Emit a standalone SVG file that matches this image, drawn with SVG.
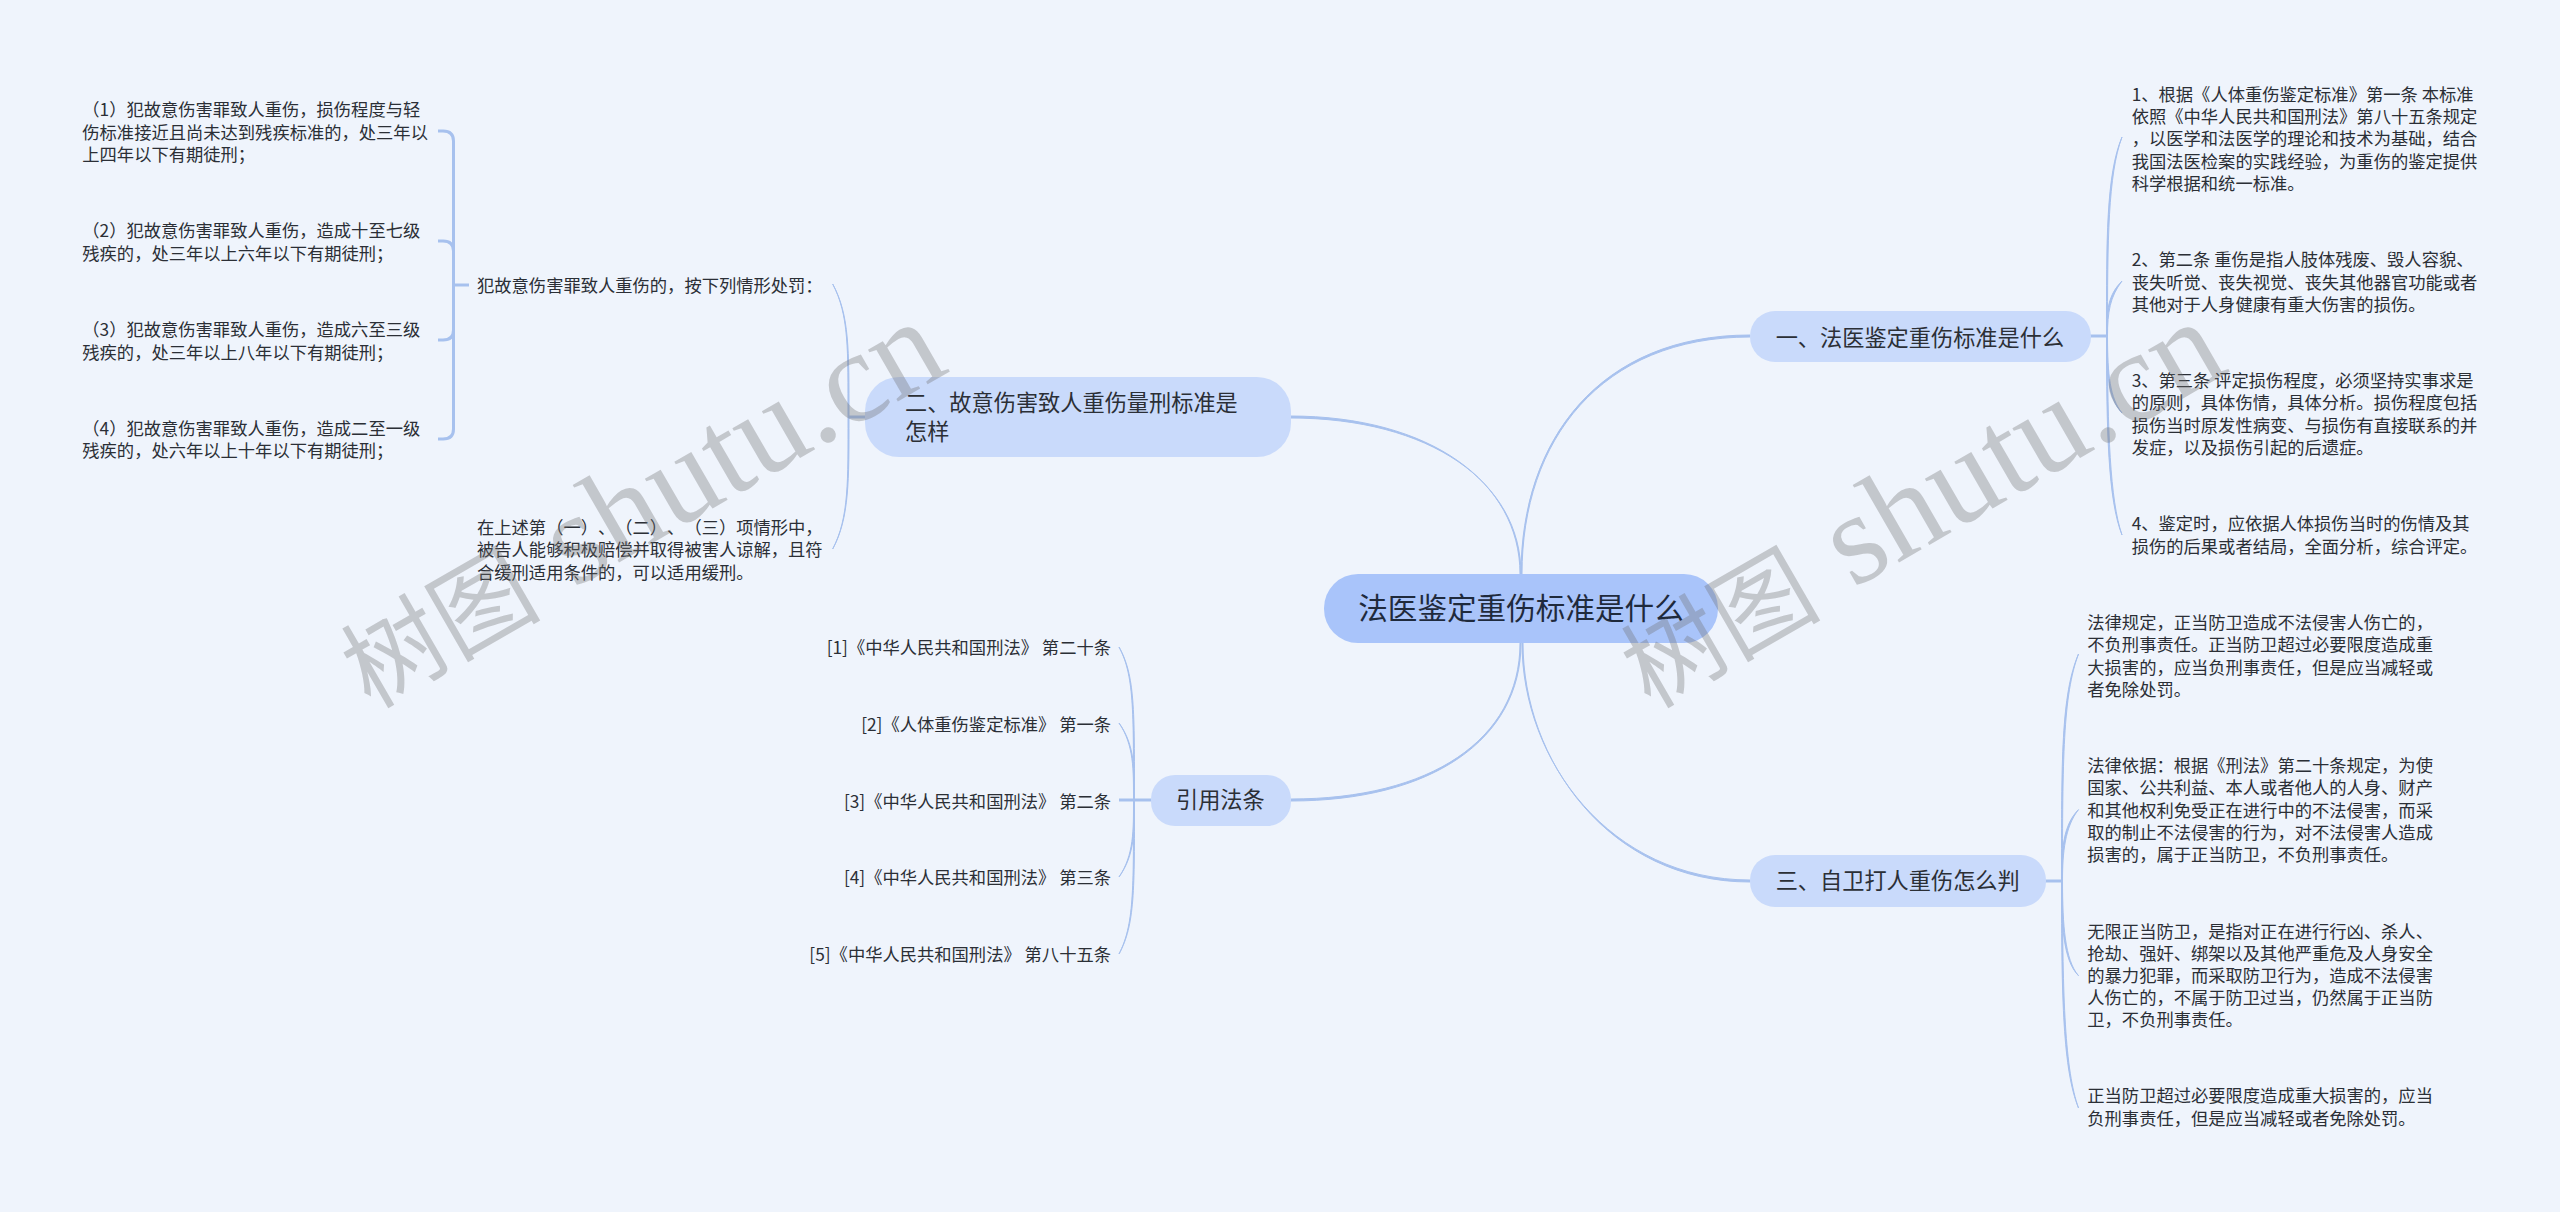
<svg xmlns="http://www.w3.org/2000/svg" width="2560" height="1212" viewBox="0 0 2560 1212">
<style>
text{font-family:"Noto Sans CJK SC","Noto Sans",sans-serif;fill:#2b2f36;text-spacing-trim:space-all}
.l{font-size:17.3px}
.r{font-size:17.3px;text-anchor:end}
.m{font-size:22.2px}
.c{font-size:29.6px;text-anchor:middle;fill:#1f2a3c}
.n1{fill:#c9dafb}
.n0{fill:#a9c4fa}
.cf{fill:#a7c1ee;stroke:#a7c1ee;stroke-width:1;stroke-linejoin:round}
.cs{fill:none;stroke:#a7c1ee;stroke-width:3}
.wm{fill:#6e6e6e;fill-opacity:.34}
.wa{font-size:100px}
.wb{font-family:"Liberation Serif",serif;font-size:130px}
</style>
<rect width="2560" height="1212" fill="#eff4fc"/>
<g id="connectors">
<path class="cf" d="M1521 574C1521 440 1600 335 1750 335L1750 337C1601 337 1522 440 1522 574Z"/>
<path class="cf" d="M1520 574C1520 482 1430 416 1290 416L1290 418C1430 418 1521 482 1521 574Z"/>
<path class="cf" d="M1520 643C1520 740 1430 799 1291 799L1291 801C1431 801 1521 740 1521 643Z"/>
<path class="cf" d="M1522 643C1522 760 1610 880 1750 880L1750 882C1609 882 1523 760 1523 643Z"/>
<path class="cs" d="M2090 336H2107M2045 881H2062M849 417H865M1119 800H1151"/>
<path class="cf" d="M2106.5 336C2106.5 240 2106 175 2122 137C2108 175 2107.5 240 2107.5 336Z"/>
<path class="cf" d="M2106.5 336C2106.5 310 2108 295 2122 281C2110 297 2107.5 312 2107.5 336Z"/>
<path class="cf" d="M2106.5 336C2106.5 375 2108 398 2122 413C2110 398 2107.5 375 2107.5 336Z"/>
<path class="cf" d="M2106.5 336C2106.5 430 2108 500 2122 535C2110 500 2107.5 430 2107.5 336Z"/>
<path class="cf" d="M2061.5 881C2061.5 760 2061 695 2078.5 654C2063 695 2062.5 760 2062.5 881Z"/>
<path class="cf" d="M2061.5 881C2061.5 850 2063 825 2078.5 809.6C2065 827 2062.5 852 2062.5 881Z"/>
<path class="cf" d="M2061.5 881C2061.5 925 2063 960 2078.5 975.7C2065 960 2062.5 925 2062.5 881Z"/>
<path class="cf" d="M2061.5 881C2061.5 1000 2063 1070 2078.5 1108C2065 1070 2062.5 1000 2062.5 881Z"/>
<path class="cf" d="M848 417C848 350 849 315 832.7 284C849.5 315 849 350 849 417Z"/>
<path class="cf" d="M848 417C848 480 849 518 832.7 549C849.5 518 849 480 849 417Z"/>
<path class="cf" d="M1133.5 800C1133.5 710 1134 675 1119 647C1135 675 1134.5 710 1134.5 800Z"/>
<path class="cf" d="M1133.5 800C1133.5 770 1134 745 1119 723C1135 745 1134.5 770 1134.5 800Z"/>
<path class="cf" d="M1133.5 800C1133.5 830 1134 855 1119 877C1135 855 1134.5 830 1134.5 800Z"/>
<path class="cf" d="M1133.5 800C1133.5 890 1134 925 1119 954C1135 925 1134.5 890 1134.5 800Z"/>
<path class="cs" d="M438 131H443Q453.5 131 453.5 141V429Q453.5 439 443 439H438M438 241H443Q453.5 241 453.5 251M438 340H443Q453.5 340 453.5 330M453.5 285H469"/>
</g>
<g id="root"><rect class="n0" x="1324" y="574" width="394" height="69" rx="34"/><text class="c" x="1521" y="619">法医鉴定重伤标准是什么</text></g>
<g id="n1"><rect class="n1" x="1750" y="311" width="341" height="51" rx="25"/><text class="m" x="1775.7" y="346">一、法医鉴定重伤标准是什么</text></g>
<g id="n2"><rect class="n1" x="865" y="377" width="426" height="80" rx="34"/><text class="m" x="905" y="411">二、故意伤害致人重伤量刑标准是</text><text class="m" x="905" y="440">怎样</text></g>
<g id="n3"><rect class="n1" x="1750" y="855" width="296" height="52" rx="25"/><text class="m" x="1775.7" y="889">三、自卫打人重伤怎么判</text></g>
<g id="n4"><rect class="n1" x="1151" y="775" width="140" height="51" rx="24"/><text class="m" x="1176" y="808">引用法条</text></g>
<g id="t1a"><text class="l" x="2131.7" y="101">1、根据《人体重伤鉴定标准》第一条 本标准</text><text class="l" x="2131.7" y="123.3">依照《中华人民共和国刑法》第八十五条规定</text><text class="l" x="2131.7" y="145.3">，以医学和法医学的理论和技术为基础，结合</text><text class="l" x="2131.7" y="167.7">我国法医检案的实践经验，为重伤的鉴定提供</text><text class="l" x="2131.7" y="190">科学根据和统一标准。</text></g>
<g id="t1b"><text class="l" x="2131.7" y="266">2、第二条 重伤是指人肢体残废、毁人容貌、</text><text class="l" x="2131.7" y="288.7">丧失听觉、丧失视觉、丧失其他器官功能或者</text><text class="l" x="2131.7" y="311">其他对于人身健康有重大伤害的损伤。</text></g>
<g id="t1c"><text class="l" x="2131.7" y="386.7">3、第三条 评定损伤程度，必须坚持实事求是</text><text class="l" x="2131.7" y="409.3">的原则，具体伤情，具体分析。损伤程度包括</text><text class="l" x="2131.7" y="431.7">损伤当时原发性病变、与损伤有直接联系的并</text><text class="l" x="2131.7" y="453.7">发症，以及损伤引起的后遗症。</text></g>
<g id="t1d"><text class="l" x="2131.7" y="530">4、鉴定时，应依据人体损伤当时的伤情及其</text><text class="l" x="2131.7" y="552.7">损伤的后果或者结局，全面分析，综合评定。</text></g>
<g id="t3a"><text class="l" x="2087.3" y="629">法律规定，正当防卫造成不法侵害人伤亡的，</text><text class="l" x="2087.3" y="651.4">不负刑事责任。正当防卫超过必要限度造成重</text><text class="l" x="2087.3" y="673.5">大损害的，应当负刑事责任，但是应当减轻或</text><text class="l" x="2087.3" y="696">者免除处罚。</text></g>
<g id="t3b"><text class="l" x="2087.3" y="771.7">法律依据：根据《刑法》第二十条规定，为使</text><text class="l" x="2087.3" y="794.2">国家、公共利益、本人或者他人的人身、财产</text><text class="l" x="2087.3" y="816.7">和其他权利免受正在进行中的不法侵害，而采</text><text class="l" x="2087.3" y="838.9">取的制止不法侵害的行为，对不法侵害人造成</text><text class="l" x="2087.3" y="861">损害的，属于正当防卫，不负刑事责任。</text></g>
<g id="t3c"><text class="l" x="2087.3" y="937.8">无限正当防卫，是指对正在进行行凶、杀人、</text><text class="l" x="2087.3" y="959.6">抢劫、强奸、绑架以及其他严重危及人身安全</text><text class="l" x="2087.3" y="981.7">的暴力犯罪，而采取防卫行为，造成不法侵害</text><text class="l" x="2087.3" y="1004.2">人伤亡的，不属于防卫过当，仍然属于正当防</text><text class="l" x="2087.3" y="1026.4">卫，不负刑事责任。</text></g>
<g id="t3d"><text class="l" x="2087.3" y="1102.4">正当防卫超过必要限度造成重大损害的，应当</text><text class="l" x="2087.3" y="1124.6">负刑事责任，但是应当减轻或者免除处罚。</text></g>
<g id="t2a"><text class="l" x="477" y="291.7">犯故意伤害罪致人重伤的，按下列情形处罚：</text></g>
<g id="t2b"><text class="l" x="477" y="534">在上述第（一）、（二）、（三）项情形中，</text><text class="l" x="477" y="556">被告人能够积极赔偿并取得被害人谅解，且符</text><text class="l" x="477" y="578.5">合缓刑适用条件的，可以适用缓刑。</text></g>
<g id="t2a1"><text class="l" x="82.3" y="116">（1）犯故意伤害罪致人重伤，损伤程度与轻</text><text class="l" x="82.3" y="138.5">伤标准接近且尚未达到残疾标准的，处三年以</text><text class="l" x="82.3" y="160.6">上四年以下有期徒刑；</text></g>
<g id="t2a2"><text class="l" x="82.3" y="237.4">（2）犯故意伤害罪致人重伤，造成十至七级</text><text class="l" x="82.3" y="259.9">残疾的，处三年以上六年以下有期徒刑；</text></g>
<g id="t2a3"><text class="l" x="82.3" y="336.4">（3）犯故意伤害罪致人重伤，造成六至三级</text><text class="l" x="82.3" y="358.9">残疾的，处三年以上八年以下有期徒刑；</text></g>
<g id="t2a4"><text class="l" x="82.3" y="435">（4）犯故意伤害罪致人重伤，造成二至一级</text><text class="l" x="82.3" y="457.4">残疾的，处六年以上十年以下有期徒刑；</text></g>
<g id="c1"><text class="r" x="1111" y="654">[1]《中华人民共和国刑法》 第二十条</text></g>
<g id="c2"><text class="r" x="1111" y="731">[2]《人体重伤鉴定标准》 第一条</text></g>
<g id="c3"><text class="r" x="1111" y="808">[3]《中华人民共和国刑法》 第二条</text></g>
<g id="c4"><text class="r" x="1111" y="884">[4]《中华人民共和国刑法》 第三条</text></g>
<g id="c5"><text class="r" x="1111" y="961">[5]《中华人民共和国刑法》 第八十五条</text></g>
<g id="watermark">
<text class="wm" transform="translate(386 697) rotate(-30)"><tspan class="wm wa" x="-20" y="3">树图</tspan><tspan class="wm wb" x="216" y="0">shutu.cn</tspan></text>
<text class="wm" transform="translate(1666 697) rotate(-30)"><tspan class="wm wa" x="-20" y="3">树图</tspan><tspan class="wm wb" x="216" y="0">shutu.cn</tspan></text>
</g>
</svg>
